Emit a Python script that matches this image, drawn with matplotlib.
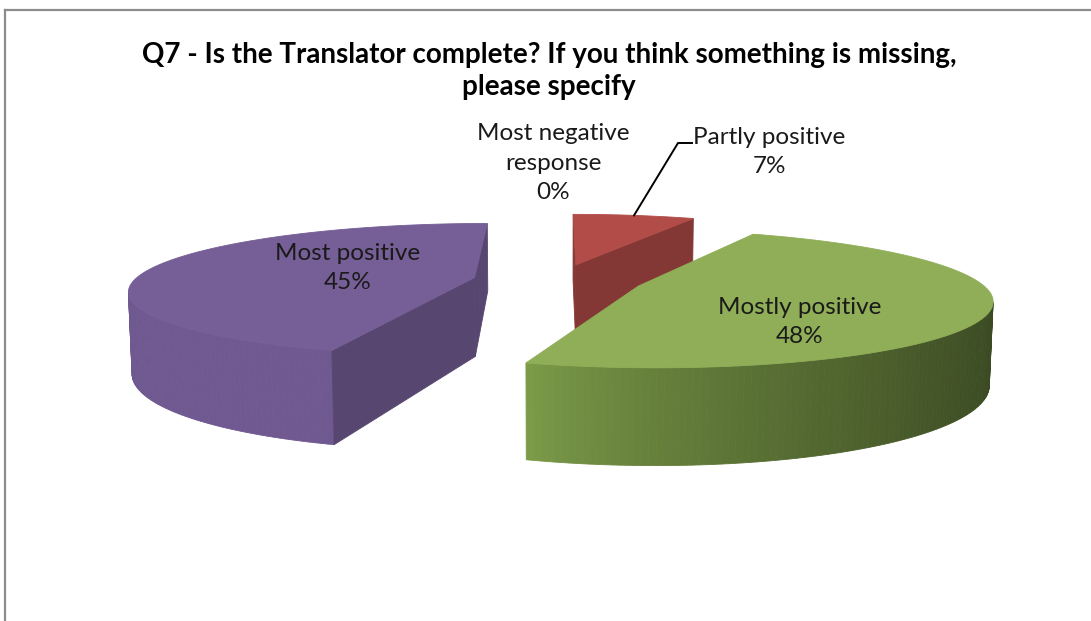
import numpy as np
import matplotlib
matplotlib.use('Agg')
import matplotlib.pyplot as plt
from matplotlib.colors import to_rgb

# survey answers, share of responses in %
categories = ['Most negative\nresponse', 'Partly positive', 'Mostly positive', 'Most positive']
shares = [0, 7, 48, 45]
top_colors = ['#4f81bd', '#b24c48', '#8fae57', '#765e96']
side_colors = ['#3f6797', '#9a3f3c', '#7d9d49', '#6f5990']
label_xy = [(553, 163), (769, 152), (800, 322), (348, 268)]

title = 'Q7 - Is the Translator complete? If you think something is missing,\nplease specify'

W, H = 1091, 621

# simple perspective camera for the 3d pie
cx, cy = 558, 280
scale = 340
elev = np.arcsin(0.19)
dist = np.cos(elev) / 0.18
explode = 0.25
depth = 0.24
cam = np.array([0.0, -dist * np.cos(elev), dist * np.sin(elev)])


def project(x, y, z):
    x, y, z = np.asarray(x, float), np.asarray(y, float), np.asarray(z, float)
    d = 1 + (y * np.cos(elev) - z * np.sin(elev)) / dist
    sx = cx + scale * x / d
    sy = cy - scale * (y * np.sin(elev) + z * np.cos(elev)) / d
    return sx, sy


def facing(normal, point):
    return np.dot(normal, cam - np.asarray(point)) > 0


def shade(color, f):
    r, g, b = to_rgb(color)
    return (r * f, g * f, b * f)


def face(ax, xs, ys, zs, color):
    px, py = project(xs, ys, zs)
    ax.fill(px, py, facecolor=color, edgecolor=color, lw=0.6)


fig = plt.figure(figsize=(W / 100, H / 100), dpi=100)
ax = fig.add_axes([0, 0, 1, 1])
ax.set_xlim(0, W)
ax.set_ylim(H, 0)
ax.axis('off')

# chart area border
ax.plot([4.5, W], [9.5, 9.5], color='#8c8c8c', lw=1.6)
ax.plot([4.5, 4.5], [9.5, H], color='#8c8c8c', lw=1.6)

ends = np.cumsum(shares) * 3.6
starts = ends - np.array(shares) * 3.6
mids = (starts + ends) / 2
offs = [(explode * np.sin(np.radians(m)), explode * np.cos(np.radians(m))) for m in mids]

# back slices first
order = sorted(range(len(shares)), key=lambda i: -offs[i][1])
for i in order:
    if shares[i] == 0:
        continue
    ox, oy = offs[i]
    a0, a1 = np.radians(starts[i]), np.radians(ends[i])
    t = np.linspace(a0, a1, max(int(shares[i] * 3.6), 4) + 1)
    ax_x = ox + np.sin(t)
    ax_y = oy + np.cos(t)

    # outer wall, darker towards the right
    for k in range(len(t) - 1):
        tm = (t[k] + t[k + 1]) / 2
        n = np.array([np.sin(tm), np.cos(tm), 0])
        p = np.array([ox + np.sin(tm), oy + np.cos(tm), -depth / 2])
        if not facing(n, p):
            continue
        f = 1 - 0.54 * np.clip((np.sin(tm) + 0.31) / 1.31, 0, 1) ** 0.75
        face(ax, [ax_x[k], ax_x[k + 1], ax_x[k + 1], ax_x[k]],
             [ax_y[k], ax_y[k + 1], ax_y[k + 1], ax_y[k]],
             [0, 0, -depth, -depth], shade(side_colors[i], f))

    # cut faces
    for a, n in [(a0, np.array([-np.cos(a0), np.sin(a0), 0])),
                 (a1, np.array([np.cos(a1), -np.sin(a1), 0]))]:
        ex, ey = ox + np.sin(a), oy + np.cos(a)
        p = np.array([(ox + ex) / 2, (oy + ey) / 2, -depth / 2])
        if facing(n, p):
            face(ax, [ox, ex, ex, ox], [oy, ey, ey, oy], [0, 0, -depth, -depth],
                 shade(top_colors[i], 0.74))

    # top
    face(ax, np.r_[ox, ax_x], np.r_[oy, ax_y], np.zeros(len(t) + 1), top_colors[i])

font = 'Lato'
for i, name in enumerate(categories):
    ax.text(label_xy[i][0], label_xy[i][1], f'{name}\n{shares[i]}%', ha='center', va='center',
            fontsize=17.5, family=font, color='#1a1a1a', linespacing=1.5)

# leader line for the small slice
m = np.radians(mids[1])
lx, ly = project(offs[1][0] + np.sin(m), offs[1][1] + np.cos(m), 0)
ax.plot([lx, 678, 692], [ly, 143, 143], color='black', lw=1.4)

ax.text(549, 71, title, ha='center', va='center', fontsize=20, fontweight='bold',
        family=font, color='black', linespacing=1.25)

fig.savefig('out.png', dpi=100)
